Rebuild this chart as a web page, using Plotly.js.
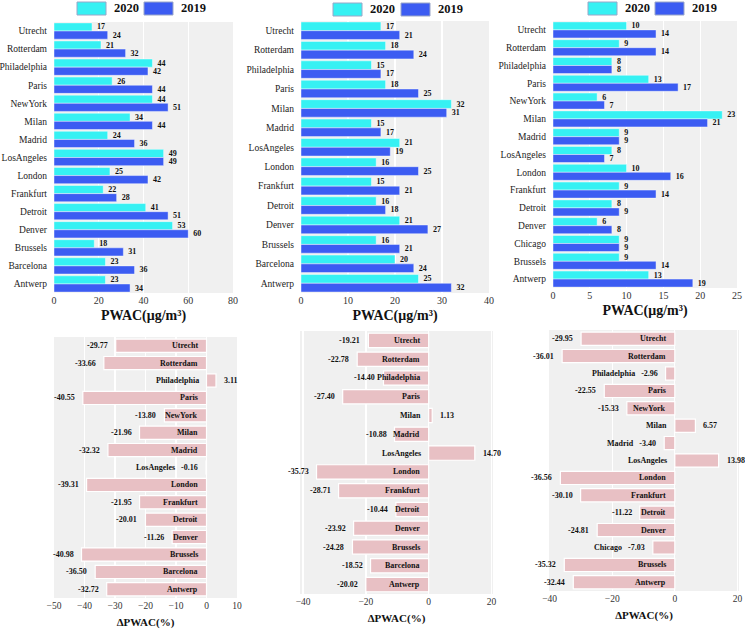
<!DOCTYPE html>
<html>
<head>
<meta charset="utf-8">
<script src="https://cdn.plot.ly/plotly-3.0.1.min.js"></script>
<style>html,body{margin:0;padding:0;background:#fff;}#chart{width:745px;height:629px;}</style>
</head>
<body>
<div id="chart"></div>
<script>
// ---- data ----
const citiesA = ['Utrecht','Rotterdam','Philadelphia','Paris','NewYork','Milan','Madrid','LosAngeles','London','Frankfurt','Detroit','Denver','Brussels','Barcelona','Antwerp'];
const pwacA2020 = [17,21,44,26,44,34,24,49,25,22,41,53,18,23,23];
const pwacA2019 = [24,32,42,44,51,44,36,49,42,28,51,60,31,36,34];
const deltaA = [-29.77,-33.66,3.11,-40.55,-13.80,-21.96,-32.32,-0.16,-39.31,-21.95,-20.01,-11.26,-40.98,-36.50,-32.72];

const citiesB = ['Utrecht','Rotterdam','Philadelphia','Paris','Milan','Madrid','LosAngeles','London','Frankfurt','Detroit','Denver','Brussels','Barcelona','Antwerp'];
const pwacB2020 = [17,18,15,18,32,15,21,16,15,16,21,16,20,25];
const pwacB2019 = [21,24,17,25,31,17,19,25,21,18,27,21,24,32];
const deltaB = [-19.21,-22.78,-14.40,-27.40,1.13,-10.88,14.70,-35.73,-28.71,-10.44,-23.92,-24.28,-18.52,-20.02];

const citiesC = ['Utrecht','Rotterdam','Philadelphia','Paris','NewYork','Milan','Madrid','LosAngeles','London','Frankfurt','Detroit','Denver','Chicago','Brussels','Antwerp'];
const pwacC2020 = [10,9,8,13,6,23,9,8,10,9,8,6,9,9,13];
const pwacC2019 = [14,14,8,17,7,21,9,7,16,14,9,8,9,14,19];
const deltaC = [-29.95,-36.01,-2.96,-22.55,-15.33,6.57,-3.40,13.98,-36.56,-30.10,-11.22,-24.81,-7.03,-35.32,-32.44];

const yearLabels = ['2020','2019'];

// ---- styles ----
const SERIF = 'Liberation Serif';
const C2020 = '#36f1f3';
const C2019 = '#3c5cf2';
const PINK = '#e8c0c4';
const W = 745, H = 629;
const px = v => v / W;
const py = v => 1 - v / H;

const traces = [];
const topPanels = [
  {cities: citiesA, a: pwacA2020, b: pwacA2019, ax: ''},
  {cities: citiesB, a: pwacB2020, b: pwacB2019, ax: '2'},
  {cities: citiesC, a: pwacC2020, b: pwacC2019, ax: '3'}
];
topPanels.forEach(p => {
  [[p.a, C2020, yearLabels[0]], [p.b, C2019, yearLabels[1]]].forEach(([vals, col, nm]) => {
    traces.push({
      type: 'bar', orientation: 'h', name: nm, showlegend: false,
      x: vals, y: p.cities,
      xaxis: 'x' + p.ax, yaxis: 'y' + p.ax,
      marker: {color: col, line: {color: 'rgba(255,255,255,0.55)', width: 0.8}},
      text: vals.map(v => '\u00a0' + String(Math.round(v))),
      textposition: 'outside', cliponaxis: false, constraintext: 'none',
      textfont: {family: SERIF, size: 8, color: '#111', weight: 'bold'},
      hoverinfo: 'x+y'
    });
  });
});

const bottomPanels = [
  {cities: citiesA, d: deltaA, ax: '4'},
  {cities: citiesB, d: deltaB, ax: '5'},
  {cities: citiesC, d: deltaC, ax: '6'}
];
const annotations = [];
const shapes = [];
const annFont = {family: SERIF, size: 8, color: '#111', weight: 'bold'};
bottomPanels.forEach(p => {
  traces.push({
    type: 'bar', orientation: 'h', showlegend: false,
    x: p.d, y: p.cities, width: 0.76,
    xaxis: 'x' + p.ax, yaxis: 'y' + p.ax,
    marker: {color: PINK, line: {color: '#ffffff', width: 1.2}},
    hoverinfo: 'x+y'
  });
  p.d.forEach((v, i) => {
    const name = p.cities[i];
    const val = v.toFixed(2);
    const base = {xref: 'x' + p.ax, yref: 'y' + p.ax, y: name, showarrow: false, font: annFont, yanchor: 'middle'};
    if (v >= 0) {
      annotations.push(Object.assign({}, base, {x: 0, text: name, xanchor: 'right', xshift: -6}));
      annotations.push(Object.assign({}, base, {x: v, text: val, xanchor: 'left', xshift: 6}));
    } else if (Math.abs(v) < 9) {
      annotations.push(Object.assign({}, base, {x: v, text: name + '\u00a0\u00a0\u00a0' + val, xanchor: 'right', xshift: -6}));
    } else {
      annotations.push(Object.assign({}, base, {x: 0, text: name, xanchor: 'right', xshift: -7}));
      annotations.push(Object.assign({}, base, {x: v, text: val, xanchor: 'right', xshift: -6}));
    }
  });
});

// ---- legends (one per top panel), drawn as boxes + labels ----
const legendSpots = [
  [77, 144, 2],   // left edge of 2020 box, left edge of 2019 box, top (px)
  [333, 401, 3],
  [588, 655, 2]
];
const legendColors = [C2020, C2019];
legendSpots.forEach(sp => {
  [sp[0], sp[1]].forEach((x0, k) => {
    shapes.push({type: 'rect', xref: 'paper', yref: 'paper',
      x0: px(x0), x1: px(x0 + 29), y0: py(sp[2] + 13), y1: py(sp[2]),
      fillcolor: legendColors[k], line: {color: '#9aa6c8', width: 1}});
    annotations.push({xref: 'paper', yref: 'paper', x: px(x0 + 35), y: py(sp[2] + 6.5),
      xanchor: 'left', yanchor: 'middle', showarrow: false, text: yearLabels[k],
      font: {family: SERIF, size: 12.5, color: '#111', weight: 'bold'}});
  });
});

const tickFontTop = {family: SERIF, size: 10, color: '#333'};
const tickFontBot = {family: SERIF, size: 9.5, color: '#333'};
const catFont = {family: SERIF, size: 9.5, color: '#222'};
const titleTop = {family: SERIF, size: 14, color: '#111', weight: 'bold'};
const titleBot = {family: SERIF, size: 11, color: '#111', weight: 'bold'};

function xAx(domain, range, dtick, title, anchor, tf, ttf, standoff, extra) {
  return Object.assign({
    domain: domain, range: range, dtick: dtick, anchor: anchor,
    showgrid: true, gridcolor: '#ffffff', gridwidth: 1.3, zeroline: false,
    showline: false, ticks: '', tickfont: tf,
    title: {text: title, font: ttf, standoff: standoff}, fixedrange: true
  }, extra || {});
}
function yAx(domain, anchor, showLabels) {
  return {
    domain: domain, anchor: anchor, autorange: 'reversed', type: 'category',
    showgrid: false, zeroline: false, showline: false, ticks: '',
    showticklabels: showLabels, tickfont: catFont, ticklabelstandoff: 6, fixedrange: true
  };
}

const layout = {
  width: W, height: H,
  margin: {l: 0, r: 0, t: 0, b: 0},
  paper_bgcolor: '#ffffff', plot_bgcolor: '#f0f0f0',
  barmode: 'group', bargap: 0.1, bargroupgap: 0,
  showlegend: false,
  xaxis:  xAx([px(54), px(233)], [0, 80], 20, 'PWAC(μg/m³)', 'y', tickFontTop, titleTop, 5),
  yaxis:  yAx([py(293), py(22)], 'x', true),
  xaxis2: xAx([px(301), px(489)], [0, 40], 10, 'PWAC(μg/m³)', 'y2', tickFontTop, titleTop, 5),
  yaxis2: yAx([py(293), py(21)], 'x2', true),
  xaxis3: xAx([px(553), px(737)], [0, 25], 5, 'PWAC(μg/m³)', 'y3', tickFontTop, titleTop, 5),
  yaxis3: yAx([py(288), py(21)], 'x3', true),
  xaxis4: xAx([px(54), px(237)], [-50, 10], 10, 'ΔPWAC(%)', 'y4', tickFontBot, titleBot, 8),
  yaxis4: yAx([py(598), py(337)], 'x4', false),
  xaxis5: xAx([px(300), px(493)], [-41, 20.5], 20, 'ΔPWAC(%)', 'y5', tickFontBot, titleBot, 8, {tick0: 0}),
  yaxis5: yAx([py(594), py(331)], 'x5', false),
  xaxis6: xAx([px(549), px(739)], [-40.2, 20.5], 20, 'ΔPWAC(%)', 'y6', tickFontBot, titleBot, 8, {tick0: 0}),
  yaxis6: yAx([py(591), py(330)], 'x6', false),
  shapes: shapes,
  annotations: annotations
};

Plotly.newPlot('chart', traces, layout, {displayModeBar: false, staticPlot: true});
</script>
</body>
</html>
